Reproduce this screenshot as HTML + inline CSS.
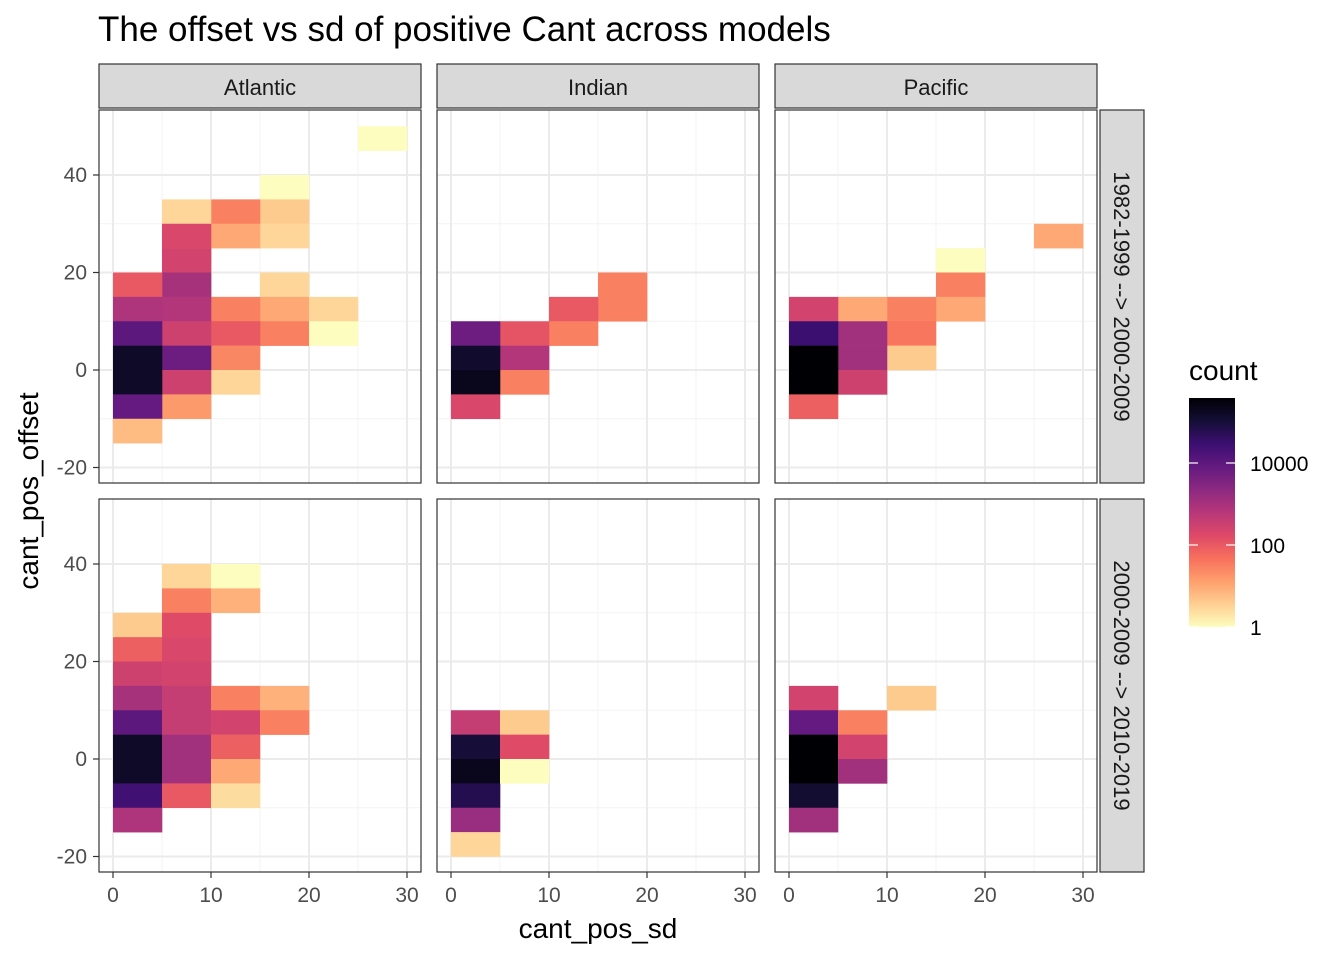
<!DOCTYPE html>
<html><head><meta charset="utf-8"><style>
body{margin:0;background:#fff;}
svg text{font-family:"Liberation Sans",sans-serif;}
</style></head><body>
<svg id="chart" width="1344" height="960" xmlns="http://www.w3.org/2000/svg">
<defs><linearGradient id="lg" x1="0" y1="1" x2="0" y2="0">
<stop offset="0" stop-color="#fcfdbf"/><stop offset="0.1" stop-color="#fecf92"/><stop offset="0.2" stop-color="#fe9f6d"/><stop offset="0.3" stop-color="#f7705c"/><stop offset="0.4" stop-color="#de4968"/><stop offset="0.5" stop-color="#b73779"/><stop offset="0.6" stop-color="#8c2981"/><stop offset="0.7" stop-color="#641a80"/><stop offset="0.8" stop-color="#3b0f70"/><stop offset="0.9" stop-color="#140e36"/><stop offset="1" stop-color="#000004"/>
</linearGradient></defs>
<text x="98" y="41" font-size="35" fill="#000">The offset vs sd of positive Cant across models</text>
<text x="598" y="938" font-size="28" text-anchor="middle" fill="#000">cant_pos_sd</text>
<text transform="translate(38,491) rotate(-90)" font-size="28" text-anchor="middle" fill="#000">cant_pos_offset</text>
<g id="panels"></g>
<g id="legend">
<text x="1189" y="380" font-size="28">count</text>
<rect x="1189" y="398" width="46" height="229" fill="url(#lg)"/>
</g>
</svg>
<script>
const NS="http://www.w3.org/2000/svg";
const regions=["Atlantic","Indian","Pacific"];
const periods=["1982-1999 --> 2000-2009","2000-2009 --> 2010-2019"];
const xTicks=[0,10,20,30];
const yTicks=[-20,0,20,40];
const legendTicks=[1,100,10000];
// cells: [sd bin start, offset bin start, count]
const atlantic1=[[25,45,1],[15,35,1],[15,30,4],[15,25,3],[15,15,3],[15,10,10],[15,5,30],[10,30,30],[10,25,10],[10,10,30],[10,5,100],[10,0,25],[10,-5,3],[5,30,3],[5,25,200],[5,20,250],[5,15,1000],[5,10,700],[5,5,300],[5,0,6000],[5,-5,300],[5,-10,15],[0,15,100],[0,10,800],[0,5,10000],[0,0,150000],[0,-5,150000],[0,-10,8000],[0,-15,6],[20,10,3],[20,5,1]];
const indian1=[[15,15,30],[15,10,30],[10,10,100],[10,5,30],[5,5,120],[5,0,700],[5,-5,30],[0,5,6000],[0,0,130000],[0,-5,200000],[0,-10,200]];
const pacific1=[[25,25,10],[15,20,1],[15,15,30],[15,10,10],[10,10,30],[10,5,40],[10,0,4],[5,10,10],[5,5,1200],[5,0,1200],[5,-5,300],[0,10,250],[0,5,30000],[0,0,380000],[0,-5,380000],[0,-10,80]];
const atlantic2=[[0,25,4],[0,20,80],[0,15,300],[0,10,1000],[0,5,10000],[0,0,150000],[0,-5,150000],[0,-10,25000],[0,-15,800],[5,35,3],[5,30,30],[5,25,160],[5,20,200],[5,15,250],[5,10,400],[5,5,400],[5,0,1200],[5,-5,1200],[5,-10,100],[10,35,1],[10,30,8],[10,10,30],[10,5,250],[10,0,80],[10,-5,10],[10,-10,2.5],[15,10,8],[15,5,30]];
const indian2=[[0,5,400],[0,0,100000],[0,-5,200000],[0,-10,60000],[0,-15,1500],[0,-20,3],[5,5,4],[5,0,160],[5,-5,1]];
const pacific2=[[0,10,250],[0,5,8000],[0,0,380000],[0,-5,380000],[0,-10,120000],[0,-15,1200],[5,5,30],[5,0,250],[5,-5,1200],[10,10,4]];
const grid=[[atlantic1,indian1,pacific1],[atlantic2,indian2,pacific2]];
const MAXLOG=5.58;
const stops=["#000004","#140e36","#3b0f70","#641a80","#8c2981","#b73779","#de4968","#f7705c","#fe9f6d","#fecf92","#fcfdbf"];
function hex(h){return [1,3,5].map(i=>parseInt(h.substr(i,2),16));}
function color(c){let t=1-Math.log10(c)/MAXLOG;t=Math.max(0,Math.min(1,t));const p=t*10,i=Math.min(9,Math.floor(p)),f=p-i;const a=hex(stops[i]),b=hex(stops[i+1]);return "rgb("+a.map((v,k)=>Math.round(v+(b[k]-v)*f)).join(",")+")";}
const panelX=[99,437,775],PW=322,rowY=[110,499],PH=373;
function sx(p,v){return panelX[p]+14+v*9.8;}
function sy(r,v){return rowY[r]+260-v*4.875;}
function mk(tag,attrs,parent){const e=document.createElementNS(NS,tag);for(const k in attrs)e.setAttribute(k,attrs[k]);parent.appendChild(e);return e;}
const root=document.getElementById("panels");
for(let r=0;r<2;r++){for(let p=0;p<3;p++){
 const g=mk("g",{},root);
 
 
 mk("rect",{x:panelX[p],y:rowY[r],width:PW,height:PH,fill:"#fff"},g);
 [-10,10,30].forEach(v=>mk("line",{x1:panelX[p],x2:panelX[p]+PW,y1:sy(r,v),y2:sy(r,v),stroke:"#f3f3f3","stroke-width":1},g));
 [5,15,25].forEach(v=>mk("line",{y1:rowY[r],y2:rowY[r]+PH,x1:sx(p,v),x2:sx(p,v),stroke:"#f3f3f3","stroke-width":1},g));
 yTicks.forEach(v=>mk("line",{x1:panelX[p],x2:panelX[p]+PW,y1:sy(r,v),y2:sy(r,v),stroke:"#ebebeb","stroke-width":2},g));
 xTicks.forEach(v=>mk("line",{y1:rowY[r],y2:rowY[r]+PH,x1:sx(p,v),x2:sx(p,v),stroke:"#ebebeb","stroke-width":2},g));
 grid[r][p].forEach(d=>{
  const c=mk("rect",{x:sx(p,d[0]),y:sy(r,d[1]+5),width:sx(p,d[0]+5)-sx(p,d[0])+0.3,height:sy(r,d[1])-sy(r,d[1]+5)+0.3,fill:color(d[2])},g);
  
  
 });
 mk("rect",{x:panelX[p],y:rowY[r],width:PW,height:PH,fill:"none",stroke:"#333","stroke-width":1.2},g);
 if(p===0){yTicks.forEach(v=>{mk("line",{x1:93,x2:99,y1:sy(r,v),y2:sy(r,v),stroke:"#333","stroke-width":1.2},g);
  const t=mk("text",{x:87,y:sy(r,v)+7,"font-size":21,"text-anchor":"end",fill:"#4d4d4d"},g);t.textContent=v;
  });}
 if(r===1){xTicks.forEach(v=>{mk("line",{x1:sx(p,v),x2:sx(p,v),y1:872,y2:878,stroke:"#333","stroke-width":1.2},g);
  const t=mk("text",{x:sx(p,v),y:902,"font-size":21,"text-anchor":"middle",fill:"#4d4d4d"},g);t.textContent=v;
  });}
}}
regions.forEach((n,p)=>{const s=mk("g",{},root);
 
 
 mk("rect",{x:panelX[p],y:64,width:PW,height:44,fill:"#d9d9d9",stroke:"#333","stroke-width":1.2},s);
 const t=mk("text",{x:panelX[p]+PW/2,y:95,"font-size":22,"text-anchor":"middle",fill:"#1a1a1a"},s);t.textContent=n;});
periods.forEach((n,r)=>{const s=mk("g",{},root);
 
 
 mk("rect",{x:1100,y:rowY[r],width:44,height:PH,fill:"#d9d9d9",stroke:"#333","stroke-width":1.2},s);
 const t=mk("text",{transform:"translate(1114,"+(rowY[r]+PH/2)+") rotate(90)","font-size":22,"text-anchor":"middle",fill:"#1a1a1a"},s);t.textContent=n;});
const lg=document.getElementById("legend");
legendTicks.forEach(v=>{const y=627-Math.log10(v)*41;
 mk("line",{x1:1189,x2:1198,y1:y,y2:y,stroke:"#fff","stroke-width":1.2},lg);
 mk("line",{x1:1226,x2:1235,y1:y,y2:y,stroke:"#fff","stroke-width":1.2},lg);
 const t=mk("text",{x:1250,y:y+8,"font-size":21,fill:"#000"},lg);t.textContent=v;
 });
</script>
</body></html>
